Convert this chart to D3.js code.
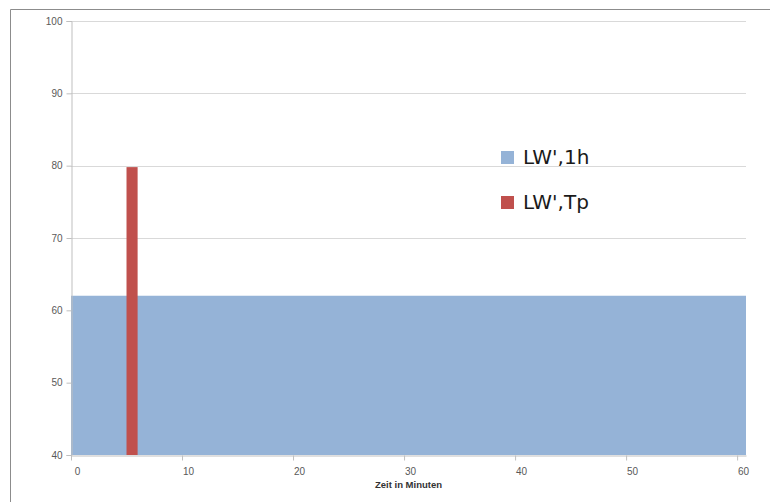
<!DOCTYPE html>
<html>
<head>
<meta charset="utf-8">
<script src="https://cdn.jsdelivr.net/npm/d3@7/dist/d3.min.js"></script>
<style>
  html, body { margin: 0; padding: 0; background: #fff; }
  svg { display: block; }
</style>
</head>
<body>
<svg id="chart" width="770" height="502"></svg>
<script>
// Series: hourly level as a flat area, peak level as a one-minute bar
const seriesNames = ["LW',1h", "LW',Tp"];
const seriesColors = ["#95b3d7", "#c0504d"];
const hourX = [0, 60.8];          // minutes
const hourY = [62, 62];           // level
const peakStart = [5];            // minutes
const peakEnd = [6];
const peakY = [79.8];
const xTicks = [0, 10, 20, 30, 40, 50, 60];
const yTicks = [40, 50, 60, 70, 80, 90, 100];
const xTitle = "Zeit in Minuten";

const svg = d3.select("#chart");
const W = 770, H = 502;
const m = { left: 71, right: 24, top: 21, bottom: 47 };

// outer frame
svg.append("path")
  .attr("d", `M10.5,${H} L10.5,9.5 L${W},9.5`)
  .attr("fill", "none").attr("stroke", "#8c8c8c").attr("stroke-width", 1);

const x = d3.scaleLinear().domain([0, 60.8]).range([m.left, W - m.right]);
const y = d3.scaleLinear().domain([40, 100]).range([H - m.bottom, m.top]);

// horizontal gridlines
svg.append("g").selectAll("line").data(yTicks.filter(v => v > 40)).join("line")
  .attr("x1", x(0)).attr("x2", x(60.8))
  .attr("y1", d => Math.round(y(d)) + 0.5).attr("y2", d => Math.round(y(d)) + 0.5)
  .attr("stroke", "#d9d9d9").attr("stroke-width", 1);

// area for the hourly level
const hourData = hourX.map((v, i) => ({ x: v, y: hourY[i] }));
svg.append("path").datum(hourData)
  .attr("d", d3.area().x(d => x(d.x)).y0(y(40)).y1(d => y(d.y)))
  .attr("fill", seriesColors[0]);

// peak bar
svg.append("g").selectAll("rect").data(peakY).join("rect")
  .attr("x", (d, i) => x(peakStart[i]))
  .attr("width", (d, i) => x(peakEnd[i]) - x(peakStart[i]))
  .attr("y", d => y(d))
  .attr("height", d => y(40) - y(d))
  .attr("fill", seriesColors[1]);

// y axis
const yAxis = svg.append("g")
  .attr("transform", `translate(${m.left + 0.5},0)`)
  .call(d3.axisLeft(y).tickValues(yTicks).tickSize(5).tickPadding(4).tickFormat(d3.format("d")));
yAxis.select(".domain").attr("stroke", "#bfbfbf");
yAxis.selectAll(".tick line").attr("stroke", "#bfbfbf");
yAxis.selectAll("text").attr("fill", "#595959")
  .style("font-family", "'Liberation Sans', Arial, sans-serif").style("font-size", "10px");

// x axis
const xAxis = svg.append("g")
  .attr("transform", `translate(0,${Math.round(y(40)) + 0.5})`)
  .call(d3.axisBottom(x).tickValues(xTicks).tickSize(5).tickSizeOuter(0).tickPadding(7).tickFormat(d3.format("d")));
xAxis.select(".domain").attr("stroke", "#bfbfbf");
xAxis.selectAll(".tick line").attr("stroke", "#bfbfbf");
xAxis.selectAll("text").attr("fill", "#595959").attr("dx", 6)
  .style("font-family", "'Liberation Sans', Arial, sans-serif").style("font-size", "10px");

// x axis title
svg.append("text")
  .attr("x", (x(0) + x(60.8)) / 2).attr("y", 488)
  .attr("text-anchor", "middle")
  .attr("fill", "#333")
  .style("font-family", "'Liberation Sans', Arial, sans-serif")
  .style("font-size", "9.5px").style("font-weight", "bold")
  .text(xTitle);

// legend
const legend = svg.append("g").attr("transform", "translate(501,150)");
const items = legend.selectAll("g").data(seriesNames).join("g")
  .attr("transform", (d, i) => `translate(0,${i * 45})`);
items.append("rect")
  .attr("width", 13).attr("height", 13).attr("y", 1)
  .attr("fill", (d, i) => seriesColors[i]);
items.append("text")
  .attr("x", 22).attr("y", 14)
  .attr("fill", "#1a1a1a")
  .style("font-family", "'DejaVu Sans', sans-serif").style("font-size", "20px")
  .text(d => d);
</script>
</body>
</html>
